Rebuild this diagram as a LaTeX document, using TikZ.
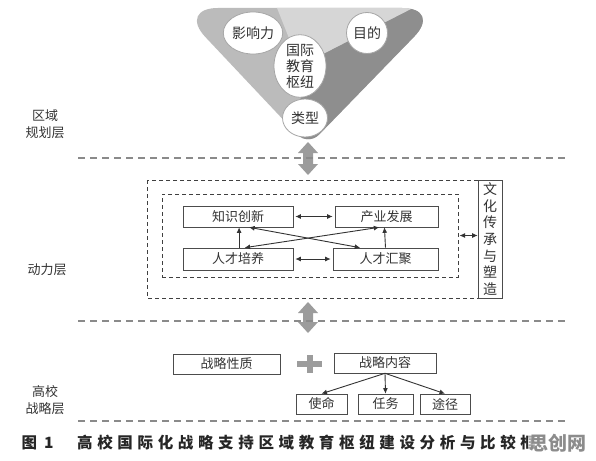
\documentclass[tikz,border=0pt]{standalone}
\usepackage{fontspec}
\setmainfont{Noto Sans CJK SC}
\newfontfamily\capfont[LetterSpace=30]{Noto Sans CJK SC}
\usetikzlibrary{arrows.meta,calc,shapes.geometric}
\definecolor{txt}{HTML}{333333}
\definecolor{triL}{HTML}{BBBBBB}
\definecolor{triT}{HTML}{D6D6D6}
\definecolor{triR}{HTML}{8E8E8E}
\definecolor{fat}{HTML}{9C9C9C}
\definecolor{sep}{HTML}{8A8A8A}
\tikzset{
  box/.style={draw=black!70, line width=0.6pt, fill=white, inner sep=0pt,
    font=\fontsize{13}{13}\selectfont, text=txt},
  bubble/.style={ellipse, draw=black!35, line width=0.8pt, fill=white, inner sep=0pt,
    font=\fontsize{14}{16}\selectfont, text=txt, align=center},
  lbl/.style={font=\fontsize{13}{17}\selectfont, text=txt, align=center},
  sepline/.style={draw=sep, line width=1.3pt, dash pattern=on 7pt off 5pt},
  dbox/.style={draw=black!75, line width=1pt, dash pattern=on 4pt off 3pt},
  arr/.style={draw=black!80, line width=0.9pt, {Latex[length=5.5pt,width=5pt]}-{Latex[length=5.5pt,width=5pt]}},
  sarr/.style={draw=black!80, line width=0.9pt, -{Latex[length=5.5pt,width=5pt]}},
}
\begin{document}
\begin{tikzpicture}[x=1pt,y=-1pt]
\useasboundingbox[fill=white] (0,0) rectangle (596,460);

% ---------- triangle ----------
\begin{scope}
  \clip (310,8) [rounded corners=40pt] -- (442,8) [rounded corners=16pt] -- (308,146)
        [rounded corners=40pt] -- (178,8) [sharp corners] -- cycle;
  \fill[triL] (150,-30) rectangle (470,170);
  \fill[triT] (300,66) -- (262,-30) -- (470,-30) -- (470,-21) -- cycle;
  \fill[triR] (300,66) -- (470,-21) -- (470,170) -- (302,170) -- cycle;
\end{scope}
\node[bubble, minimum width=57pt, minimum height=42pt] (yx) at (253,33) {影响力};
\node[bubble, minimum width=41pt, minimum height=41pt] (md) at (367,33) {目的};
\node[bubble, minimum width=52pt, minimum height=60pt] (hub) at (300,66) {国际\\教育\\枢纽};
\node[bubble, minimum width=45pt, minimum height=38pt] (lx) at (305,118) {类型};

% ---------- layer labels ----------
\node[lbl] (l1) at (45,124) {区域\\规划层};
\node[lbl] (l2) at (47,270) {动力层};
\node[lbl] (l3) at (45,400) {高校\\战略层};

% ---------- fat double arrows ----------
\fill[fat] (308,142) -- (318,153) -- (313,153) -- (313,164) -- (318,164) -- (308,175)
  -- (298,164) -- (303,164) -- (303,153) -- (298,153) -- cycle;
\fill[fat] (308,302) -- (318,313) -- (313,313) -- (313,322) -- (318,322) -- (308,333)
  -- (298,322) -- (303,322) -- (303,313) -- (298,313) -- cycle;

% ---------- separators ----------
\draw[sepline] (78,158) -- (566,158);
\draw[sepline] (78,321) -- (566,321);
\draw[sepline] (78,421) -- (566,421);

% ---------- dynamics layer ----------
\draw[dbox] (147,180) rectangle (478,298);
\node[dbox, minimum width=296pt, minimum height=83pt, inner sep=0pt] (inner) at (310,235.5) {};
\node[box, minimum width=110pt, minimum height=21pt] (zs) at (238,216.5) {知识创新};
\node[box, minimum width=103pt, minimum height=21pt] (cy) at (386.5,216.5) {产业发展};
\node[box, minimum width=110pt, minimum height=22pt] (py) at (238,259) {人才培养};
\node[box, minimum width=105pt, minimum height=22pt] (hj) at (385.5,259) {人才汇聚};
\node[box, minimum width=24pt, minimum height=118pt, align=center,
      font=\fontsize{14}{16.6}\selectfont] (wh) at (490,239) {文\\化\\传\\承\\与\\塑\\造};

\draw[arr, shorten <=2pt, shorten >=2pt] (zs.east) -- (cy.west);
\draw[arr, shorten <=2pt, shorten >=2pt] (py.east) -- (hj.west);
\draw[sarr] ($(py.north west)!0.51!(py.north east)$) -- ($(zs.south west)!0.51!(zs.south east)$);
\draw[sarr] ($(hj.north west)!0.5!(hj.north east)$) -- ($(cy.south west)!0.48!(cy.south east)$);
\draw[arr] ($(zs.south west)!0.6!(zs.south east)$) -- ($(hj.north west)!0.26!(hj.north east)$);
\draw[arr] ($(py.north west)!0.56!(py.north east)$) -- ($(cy.south west)!0.43!(cy.south east)$);
\draw[arr, shorten <=1pt] (inner.east) -- (inner.east -| wh.west);

% ---------- strategy layer ----------
\node[box, minimum width=107pt, minimum height=20pt] (xz) at (226.5,364) {战略性质};
\node[box, minimum width=102pt, minimum height=20pt] (nr) at (385,363) {战略内容};
\node[box, minimum width=51pt, minimum height=20pt] (sm) at (321.5,404) {使命};
\node[box, minimum width=55pt, minimum height=20pt] (rw) at (385.5,404) {任务};
\node[box, minimum width=50pt, minimum height=20pt] (tj) at (445,404) {途径};
\draw[fat, line width=6pt] (297,364) -- (322,364);
\draw[fat, line width=6pt] (309.5,355) -- (309.5,373);
\draw[sarr] (nr.south) -- (sm.north);
\draw[sarr] (nr.south) -- (rw.north);
\draw[sarr] (nr.south) -- (tj.north);

% ---------- caption ----------
\node[anchor=west, font=\capfont\bfseries\fontsize{15.5}{16}\selectfont, text=black!85] (cap0) at (18,443) {图\hspace{7pt}1};
\node[anchor=west, font=\capfont\bfseries\fontsize{15.5}{16}\selectfont, text=black!85, inner sep=0pt] (cap) at (77,443)
  {高校国际化战略支持区域教育枢纽建设分析与比较框};
\node[anchor=west, font=\bfseries\fontsize{19}{20}\selectfont, text=black!45, fill=white, fill opacity=0.6, text opacity=1, inner sep=1pt] (wm) at (528,443) {思创网};
\end{tikzpicture}
\end{document}
